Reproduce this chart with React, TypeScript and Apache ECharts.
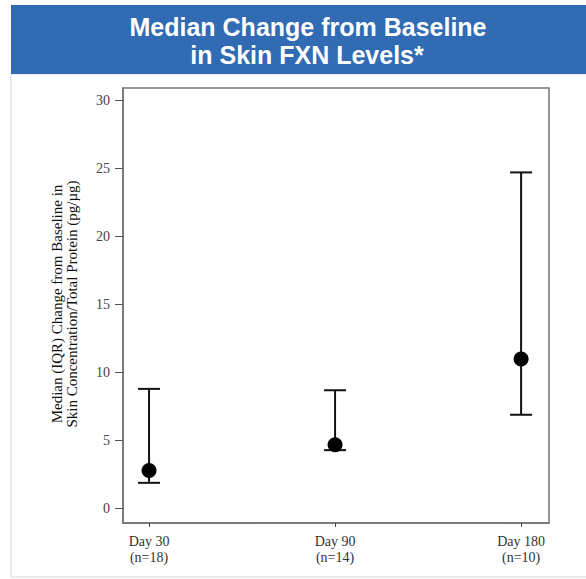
import React, { useEffect, useRef } from "react";
import * as echarts from "echarts";

const categories = ["Day 30\n(n=18)", "Day 90\n(n=14)", "Day 180\n(n=10)"];
const medians = [2.8, 4.7, 11.0];
const q1 = [1.9, 4.3, 6.9];
const q3 = [8.8, 8.7, 24.7];
const yTicks = [0, 5, 10, 15, 20, 25, 30];
const titleLines = ["Median Change from Baseline", "in Skin FXN Levels*"];
const yTitleLines = [
  "Median (IQR) Change from Baseline in",
  "Skin Concentration/Total Protein (pg/\u00b5g)",
];

export default function App() {
  const ref = useRef<HTMLDivElement>(null);
  useEffect(() => {
    if (!ref.current) return;
    const chart = echarts.init(ref.current, null, { renderer: "svg" });
    const serif = "Liberation Serif";
    const xIdx = categories.map((_, i) => i);
    chart.setOption({
      animation: false,
      backgroundColor: "#ffffff",
      grid: {
        left: 123,
        right: 37,
        top: 88,
        bottom: 56,
        show: true,
        borderColor: "#747474",
        borderWidth: 1.5,
        backgroundColor: "transparent",
      },
      xAxis: {
        type: "value",
        min: -0.14,
        max: 2.15,
        axisLine: { show: true, onZero: false, lineStyle: { color: "#747474", width: 1.5 } },
        splitLine: { show: false },
        axisTick: {
          show: true,
          customValues: xIdx,
          length: 4,
          lineStyle: { color: "#444", width: 1 },
        },
        axisLabel: {
          customValues: xIdx,
          formatter: (v: number) => categories[Math.round(v)] ?? "",
          fontFamily: serif,
          fontSize: 14,
          color: "#333",
          lineHeight: 16,
          margin: 10,
        },
      },
      yAxis: {
        type: "value",
        min: -1.05,
        max: 30.9,
        axisLine: { show: true, onZero: false, lineStyle: { color: "#747474", width: 1.5 } },
        splitLine: { show: false },
        axisTick: {
          show: true,
          customValues: yTicks,
          length: 8,
          lineStyle: { color: "#555", width: 1 },
        },
        axisLabel: {
          customValues: yTicks,
          fontFamily: serif,
          fontSize: 14,
          color: "#444",
          margin: 13,
        },
      },
      graphic: [
        {
          type: "rect",
          shape: { x: 11, y: 74, width: 580, height: 503 },
          style: { fill: "none", stroke: "#e4e4e4", lineWidth: 1.5 },
          silent: true,
        },
        {
          type: "rect",
          shape: { x: 11, y: 5, width: 575, height: 69 },
          style: { fill: "#306bb3" },
          silent: true,
        },
        {
          type: "text",
          x: 308,
          y: 27,
          style: {
            text: titleLines[0],
            fill: "#ffffff",
            font: "bold 25px 'Liberation Sans', Arial, sans-serif",
            textAlign: "center",
            textVerticalAlign: "middle",
          },
          silent: true,
        },
        {
          type: "text",
          x: 307,
          y: 55,
          style: {
            text: titleLines[1],
            fill: "#ffffff",
            font: "bold 25px 'Liberation Sans', Arial, sans-serif",
            textAlign: "center",
            textVerticalAlign: "middle",
          },
          silent: true,
        },
        {
          type: "text",
          x: 64,
          y: 304,
          rotation: Math.PI / 2,
          style: {
            text: yTitleLines.join("\n"),
            fill: "#111",
            font: "15px 'Liberation Serif', serif",
            lineHeight: 15,
            textAlign: "center",
            textVerticalAlign: "middle",
          },
          silent: true,
        },
      ],
      series: [
        {
          type: "custom",
          data: xIdx.map((i) => [i, q1[i], q3[i]]),
          renderItem: (params: any, api: any) => {
            const x = api.value(0);
            const lo = api.coord([x, api.value(1)]);
            const hi = api.coord([x, api.value(2)]);
            const hw = 11;
            const style = { stroke: "#111", lineWidth: 2 };
            return {
              type: "group",
              children: [
                { type: "line", shape: { x1: lo[0], y1: lo[1], x2: hi[0], y2: hi[1] }, style },
                { type: "line", shape: { x1: lo[0] - hw, y1: lo[1], x2: lo[0] + hw, y2: lo[1] }, style },
                { type: "line", shape: { x1: hi[0] - hw, y1: hi[1], x2: hi[0] + hw, y2: hi[1] }, style },
              ],
            };
          },
          z: 2,
        },
        {
          type: "scatter",
          data: xIdx.map((i) => [i, medians[i]]),
          symbol: "circle",
          symbolSize: 15,
          itemStyle: { color: "#000", opacity: 1 },
          z: 3,
        },
      ],
    });
    return () => chart.dispose();
  }, []);
  return (
    <div
      ref={ref}
      style={{ position: "fixed", left: 0, top: 0, width: 586, height: 579 }}
    />
  );
}
